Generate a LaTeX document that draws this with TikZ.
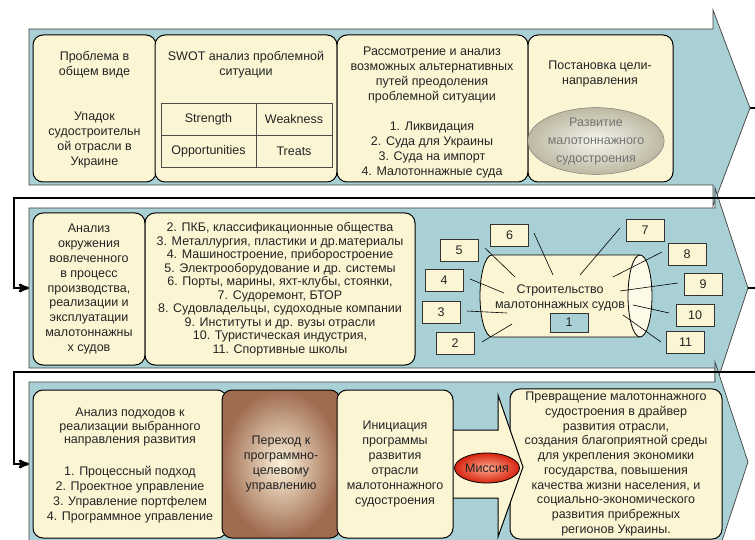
\documentclass[tikz,border=0pt]{standalone}
\usepackage{fontspec}
\setmainfont{Liberation Sans}
\usetikzlibrary{arrows,positioning,shapes.geometric}

\definecolor{bandfill}{RGB}{168,208,213}
\definecolor{boxfill}{RGB}{252,245,212}
\definecolor{ink}{RGB}{35,35,35}
\definecolor{grayin}{RGB}{246,246,238}
\definecolor{grayout}{RGB}{188,184,162}
\definecolor{brownin}{RGB}{252,242,218}
\definecolor{brownout}{RGB}{160,108,80}
\definecolor{missin}{RGB}{255,170,140}
\definecolor{missout}{RGB}{215,35,15}

\begin{document}
\begin{tikzpicture}[x=1pt,y=1pt,>=stealth',
    box/.style={draw=black,fill=boxfill,rounded corners=10pt,line width=1pt,
      align=center,text=ink,font=\fontsize{12.5}{15}\selectfont},
    txt/.style={align=center,text=ink,inner sep=0pt,font=\fontsize{12.5}{15}\selectfont},
    band/.style={draw=black!75,fill=bandfill,line width=0.7pt},
    cell/.style={draw=black!70,line width=0.6pt,minimum height=32pt,inner sep=0pt,
      text=ink,font=\fontsize{12.5}{15}\selectfont},
    numbox/.style={draw=black!80,fill=boxfill,minimum width=38pt,minimum height=22pt,
      inner sep=0pt,text=ink,font=\fontsize{12.5}{14}\selectfont},
    feed/.style={->,line width=2.4pt}]

\useasboundingbox (0,0) rectangle (755,-540);
\clip (0,0) rectangle (755,-540);

% three bands
\draw[band] (29,-29) -- (713,-29) -- (713,-10) -- (750,-108) -- (713,-206)
  -- (713,-185) -- (29,-185) -- cycle;
\draw[band] (29,-208) -- (715,-208) -- (715,-188) -- (748,-288) -- (715,-388)
  -- (715,-368) -- (29,-368) -- cycle;
\draw[band] (29,-382) -- (715,-382) -- (715,-362) -- (748,-462) -- (715,-562)
  -- (715,-542) -- (29,-542) -- cycle;

% first band
\node[box,minimum width=123pt,minimum height=147pt] (prob) at (94.5,-108.5) {};
\node[box,minimum width=182pt,minimum height=147pt,right=-2pt of prob] (swot) {};
\node[box,minimum width=191pt,minimum height=147pt,right=-1pt of swot] (alt) {};
\node[box,minimum width=145pt,minimum height=147pt,right=-1pt of alt] (goal) {};

\node[txt] (probA) at (94.5,-65) {Проблема в\\общем виде};
\node[txt] (probB) at (94.5,-140) {Упадок\\судостроительн\\ой отрасли в\\Украине};
\node[txt] (swotT) at (246,-65) {SWOT анализ проблемной\\ситуации};
\node[cell,minimum width=95pt] (str) at (208.5,-119) {Strength};
\node[cell,minimum width=76pt,right=-0.6pt of str] (weak) {Weakness};
\node[cell,minimum width=95pt,below=-0.6pt of str] (opp) {Opportunities};
\node[cell,minimum width=76pt,right=-0.6pt of opp] (thr) {Treats};
\node[txt] (altT) at (432,-112) {Рассмотрение и анализ\\возможных альтернативных\\путей преодоления\\проблемной ситуации\\[15pt]1. Ликвидация\\2. Суда для Украины\\3. Суда на импорт\\4. Малотоннажные суда};
\node[txt] (goalT) at (600,-74) {Постановка цели-\\направления};
\node[ellipse,draw=black!55,shade,inner color=grayin,outer color=grayout,
  minimum width=122pt,minimum height=53pt,inner sep=0pt,align=center,text=black!55,
  font=\fontsize{12.5}{18}\selectfont] (dir) at (596,-141) {Развитие\\малотоннажного\\судостроения};

% second band
\node[box,minimum width=112pt,minimum height=152pt,
  font=\fontsize{12.5}{14.9}\selectfont] (env) at (89,-289)
  {Анализ\\окружения\\вовлеченного\\в процесс\\производства,\\реализации и\\эксплуатации\\малотоннажны\\х судов};
\node[box,minimum width=270pt,minimum height=152pt,right=-1pt of env,
  font=\fontsize{12.5}{13.5}\selectfont] (actors)
  {2. ПКБ, классификационные общества\\3. Металлургия, пластики и др.материалы\\4. Машиностроение, приборостроение\\5. Электрооборудование и др. системы\\6. Порты, марины, яхт-клубы, стоянки,\\7. Судоремонт, БТОР\\8. Судовладельцы, судоходные компании\\9. Институты и др. вузы отрасли\\10. Туристическая индустрия,\\11. Спортивные школы};

% cylinder
\draw[fill=boxfill,line width=0.8pt] (640,-255) -- (492,-255)
  arc[start angle=90,end angle=270,x radius=12,y radius=41] -- (640,-337);
\draw[fill=boxfill!55!white,line width=0.8pt] (640,-296) ellipse [x radius=12,y radius=41];
\node[txt] (build) at (560,-297.5) {Строительство\\малотоннажных судов};
\node[numbox,fill=bandfill,minimum height=19pt] (n1) at (569,-322.5) {1};

\foreach \n/\x/\y in {2/455/343,3/441/312.5,4/444/280.5,5/459/250.5,6/509.5/235,
    7/645/230,8/687/254,9/703/284.5,10/695/315,11/685.5/342.5}
  \node[numbox] (n\n) at (\x,-\y) {\n};

\foreach \n/\ax/\ay/\bx/\by in {2/482/342/512/324,3/467/311/507/313,4/470/279/504/293,
    5/485/248/515/277,6/534/233/553/275,7/620/228/580/275,8/662/252/613/277,
    9/678/283/620/291,10/669/313/633/305,11/661/342/623/315}{
  \coordinate (o\n) at (\ax,-\ay);
  \coordinate (c\n) at (\bx,-\by);
  \draw[line width=0.6pt] (o\n) -- (c\n);
}

% third band
\node[box,minimum width=194pt,minimum height=148pt] (appr) at (130,-464) {};
\node[txt,font=\fontsize{12.5}{13.5}\selectfont] (apprA) at (130,-427)
  {Анализ подходов к\\реализации выбранного\\направления развития};
\node[txt] (apprB) at (130,-494.5)
  {1. Процессный подход\\2. Проектное управление\\3. Управление портфелем\\4. Программное управление};
\node[box,shade,inner color=brownin,outer color=brownout,minimum width=118pt,
  minimum height=148pt,right=-6pt of appr,font=\fontsize{12.5}{14.7}\selectfont] (trans)
  {Переход к\\программно-\\целевому\\управлению};
\node[box,minimum width=212pt,minimum height=148pt,
  font=\fontsize{12.5}{14.7}\selectfont] (result) at (616,-464)
  {Превращение малотоннажного\\судостроения в драйвер\\развития отрасли,\\создания благоприятной среды\\для укрепления экономики\\государства, повышения\\качества жизни населения, и\\социально-экономического\\развития прибрежных\\регионов Украины.};
\draw[fill=boxfill,line width=1pt] (440,-430) -- (498,-430) -- (498,-395) -- (523,-467)
  -- (498,-537) -- (498,-498) -- (440,-498);
\node[box,minimum width=116pt,minimum height=148pt,right=-4pt of trans] (init)
  {Инициация\\программы\\развития\\отрасли\\малотоннажного\\судостроения};
\node[ellipse,draw=black,line width=0.8pt,shade,inner color=missin,outer color=missout,
  minimum width=65pt,minimum height=30pt,inner sep=0pt,text=ink,
  font=\fontsize{12.5}{14}\selectfont] (miss) at (487,-468) {Миссия};

% links between bands
\coordinate (tip1) at (750,-108);
\coordinate (out1) at (756,-108);
\coordinate (tip2) at (748,-288);
\coordinate (out2) at (756,-288);
\draw[line width=2.4pt] (tip1) -- (out1);
\draw[line width=2.4pt] (tip2) -- (out2);

\coordinate (r1) at (756,-198);
\coordinate (l1) at (14,-198);
\coordinate (in2) at (29,-288);
\draw[feed] (r1) -- (l1) |- (in2);

\coordinate (r2) at (756,-372);
\coordinate (l2) at (14,-372);
\coordinate (in3) at (29,-464);
\draw[feed] (r2) -- (l2) |- (in3);

\end{tikzpicture}
\end{document}
